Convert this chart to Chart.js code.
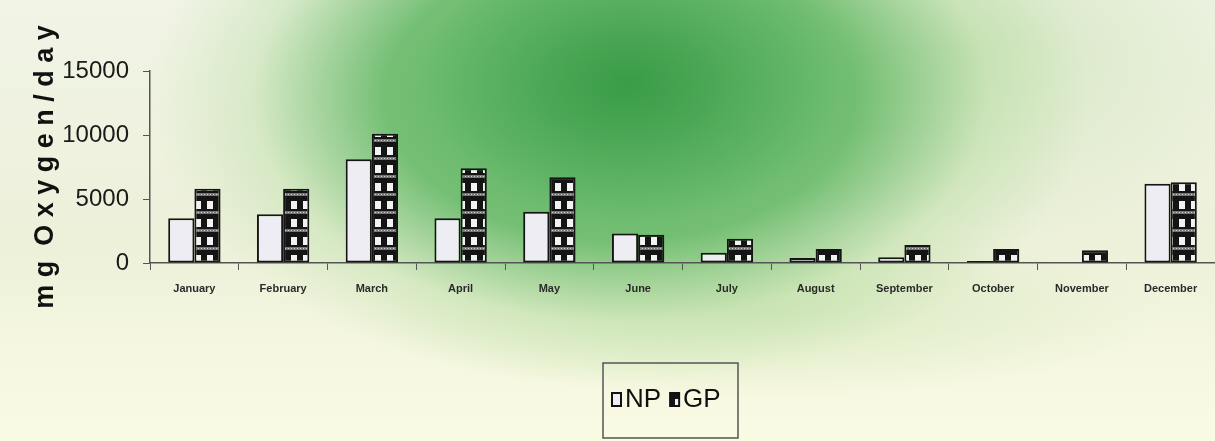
<!DOCTYPE html>
<html lang="en">
<head>
<meta charset="UTF-8">
<title>NP / GP per month</title>
<script src="https://cdn.jsdelivr.net/npm/chart.js"></script>
<style>
  html, body { margin: 0; padding: 0; }
  body {
    width: 1215px; height: 441px; overflow: hidden;
    background:
      radial-gradient(ellipse 210px 140px at 630px 80px, rgba(50,150,65,0.75), rgba(60,160,75,0.35) 60%, rgba(90,175,90,0) 100%),
      radial-gradient(ellipse 470px 290px at 620px 95px, rgba(75,170,85,0.95), rgba(95,182,98,0.85) 50%, rgba(170,215,150,0.35) 78%, rgba(210,230,180,0) 100%),
      radial-gradient(ellipse 330px 200px at 960px 50px, rgba(200,225,180,0.7), rgba(225,238,205,0) 100%),
      radial-gradient(ellipse 400px 90px at 760px 310px, rgba(195,225,170,0.55), rgba(220,235,190,0) 100%),
      linear-gradient(180deg, #f1f4e6 0%, #edf1da 55%, #fbfbe4 100%);
  }
  canvas { display: block; }
</style>
</head>
<body>
<canvas id="chart" width="1215" height="441"></canvas>
<script>
  const months = ['January', 'February', 'March', 'April', 'May', 'June', 'July', 'August', 'September', 'October', 'November', 'December'];
  const npValues = [3500, 3800, 8100, 3500, 4000, 2300, 800, 400, 450, 150, 0, 6200];
  const gpValues = [5800, 5800, 10100, 7400, 6700, 2200, 1900, 1100, 1400, 1100, 1000, 6300];
  const yTicks = [0, 5000, 10000, 15000];
  const yTitle = 'm g  O x y g e n / d a y';

  const canvas = document.getElementById('chart');
  const ctx = canvas.getContext('2d');

  // checkered fill used for the GP bars
  function makeCheck() {
    const c = document.createElement('canvas');
    c.width = 12; c.height = 18;
    const g = c.getContext('2d');
    g.fillStyle = '#141414';
    g.fillRect(0, 0, 12, 18);
    g.fillStyle = '#f2f2f2';
    g.fillRect(3, 3, 6, 8);
    g.fillStyle = '#777';
    g.fillRect(0, 13, 12, 3);
    g.fillStyle = '#cfcfcf';
    for (let x = 0; x < 12; x += 3) g.fillRect(x, 14, 1, 1);
    return ctx.createPattern(c, 'repeat');
  }
  const gpFill = makeCheck();
  const npFill = '#efedf4';

  // boxed legend under the plot
  const legendBox = {
    id: 'legendBox',
    afterDraw(chart) {
      const c = chart.ctx;
      c.save();
      c.strokeStyle = '#555';
      c.lineWidth = 1.5;
      c.strokeRect(603, 363, 135, 75);
      c.font = '26px "Liberation Sans", Arial, sans-serif';
      c.textBaseline = 'middle';
      let x = 612;
      chart.data.datasets.forEach(ds => {
        c.fillStyle = ds.backgroundColor;
        c.fillRect(x, 393, 9, 13);
        c.strokeStyle = '#111';
        c.lineWidth = 2;
        c.strokeRect(x, 393, 9, 13);
        c.fillStyle = '#111';
        c.fillText(ds.label, x + 13, 400);
        x += 13 + c.measureText(ds.label).width + 9;
      });
      c.restore();
    }
  };

  new Chart(ctx, {
    type: 'bar',
    data: {
      labels: months,
      datasets: [
        { label: 'NP', data: npValues, backgroundColor: npFill, borderColor: '#151515', borderWidth: 2, borderSkipped: false },
        { label: 'GP', data: gpValues, backgroundColor: gpFill, borderColor: '#151515', borderWidth: 2, borderSkipped: false }
      ]
    },
    options: {
      responsive: false,
      animation: false,
      layout: { padding: { top: 71, right: 0, bottom: 0, left: 0 } },
      datasets: { bar: { categoryPercentage: 0.59, barPercentage: 1.0 } },
      plugins: { legend: { display: false }, tooltip: { enabled: false } },
      scales: {
        x: {
          grid: { display: true, drawOnChartArea: false, offset: true, tickLength: 7, color: '#555' },
          border: { color: '#555', width: 1.5 },
          ticks: { color: '#2a2a2a', padding: 12, maxRotation: 0, font: { family: '"Liberation Sans", Arial, sans-serif', size: 11, weight: 'bold' } },
          afterFit: s => { s.height = 178; }
        },
        y: {
          min: 0, max: 15000,
          afterBuildTicks: s => { s.ticks = yTicks.map(v => ({ value: v })); },
          grid: { display: true, drawOnChartArea: false, tickLength: 7, color: '#555' },
          border: { color: '#555', width: 1.5 },
          ticks: { color: '#1a1a1a', padding: 14, callback: v => String(v), font: { family: '"Liberation Sans", Arial, sans-serif', size: 24 } },
          title: { display: true, text: yTitle, color: '#111', padding: { top: 29, bottom: 0 }, font: { family: '"Liberation Sans", Arial, sans-serif', size: 27, weight: 'bold' } },
          afterFit: s => { s.width = 150; }
        }
      }
    },
    plugins: [legendBox]
  });
</script>
</body>
</html>
